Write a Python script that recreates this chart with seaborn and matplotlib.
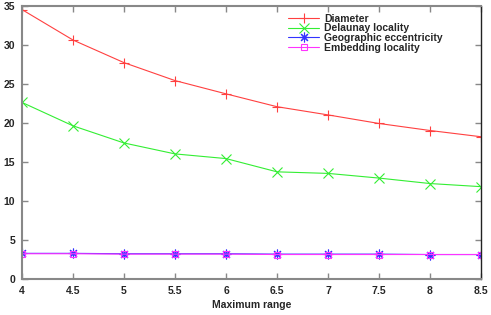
import numpy as np
import pandas as pd
import matplotlib
matplotlib.use("Agg")
import matplotlib.pyplot as plt
import seaborn as sns
from matplotlib import font_manager

# Values
max_range = [4, 4.5, 5, 5.5, 6, 6.5, 7, 7.5, 8, 8.5]
diameter = [34.5, 30.6, 27.7, 25.4, 23.7, 22.05, 21.0, 19.9, 19.0, 18.2]
delaunay = [22.6, 19.6, 17.4, 16.0, 15.4, 13.7, 13.5, 12.9, 12.2, 11.8]
geographic = [3.25, 3.25, 3.2, 3.2, 3.2, 3.15, 3.15, 3.15, 3.1, 3.1]
embedding = [3.2, 3.2, 3.15, 3.15, 3.15, 3.1, 3.1, 3.1, 3.1, 3.1]

series_names = ["Diameter", "Delaunay locality", "Geographic eccentricity", "Embedding locality"]
series_values = [diameter, delaunay, geographic, embedding]
colors = ["#ff4040", "#33ee33", "#3333ff", "#ff33ff"]
markers = ["+", "x", (8, 2, 0), "s"]

x_ticks = [4, 4.5, 5, 5.5, 6, 6.5, 7, 7.5, 8, 8.5]
x_tick_labels = ["4", "4.5", "5", "5.5", "6", "6.5", "7", "7.5", "8", "8.5"]
y_ticks = [0, 5, 10, 15, 20, 25, 30, 35]

sns.set_theme(style="ticks")
plt.rcParams["font.family"] = ["Liberation Sans", "DejaVu Sans"]
plt.rcParams["font.weight"] = "bold"

# condensed bold font, like gnuplot's Helvetica output
narrow_bold = None
for f in font_manager.fontManager.ttflist:
    if f.name == "Liberation Sans Narrow" and f.weight in (700, "bold") and f.style == "normal":
        narrow_bold = f.fname
if narrow_bold:
    fp = font_manager.FontProperties(fname=narrow_bold, size=8.4)
else:
    fp = font_manager.FontProperties(family="Liberation Sans", weight="bold", size=7.5)

fig = plt.figure(figsize=(4.91, 3.15), dpi=100)
ax = fig.add_axes([22 / 491, 1 - 278.7 / 315, 459 / 491, 273 / 315])

for name, vals, col, mk in zip(series_names, series_values, colors, markers):
    df = pd.DataFrame({"x": max_range, "y": vals})
    hollow = mk == "s"
    sns.lineplot(data=df, x="x", y="y", ax=ax, color=col, linewidth=0.8,
                 marker=mk, markersize=7 if not hollow else 4.5,
                 markeredgewidth=0.8,
                 markerfacecolor="none" if hollow else col,
                 markeredgecolor=col, label=name)

ax.set_xlim(4, 8.5)
ax.set_ylim(0, 35)
ax.set_xticks(x_ticks)
ax.set_xticklabels(x_tick_labels, fontproperties=fp)
ax.set_yticks(y_ticks)
ax.set_yticklabels([str(v) for v in y_ticks], fontproperties=fp)
ax.set_xlabel("Maximum range", fontproperties=fp, labelpad=3)
ax.set_ylabel("")
ax.tick_params(direction="in", length=4, width=1, top=True, right=True,
               pad=5, color="#888888")
for side in ["left", "top", "bottom"]:
    ax.spines[side].set_color("#888888")
    ax.spines[side].set_linewidth(1.5)
ax.spines["right"].set_color("#222222")
ax.spines["right"].set_linewidth(1.0)

leg = ax.legend(loc="upper left", bbox_to_anchor=(288 / 491, 1 - 13.5 / 315),
                bbox_transform=fig.transFigure, frameon=False, prop=fp,
                handlelength=3.0, handletextpad=0.5,
                labelspacing=-0.02, borderaxespad=0, borderpad=0)

fig.savefig("out.png", dpi=100)
